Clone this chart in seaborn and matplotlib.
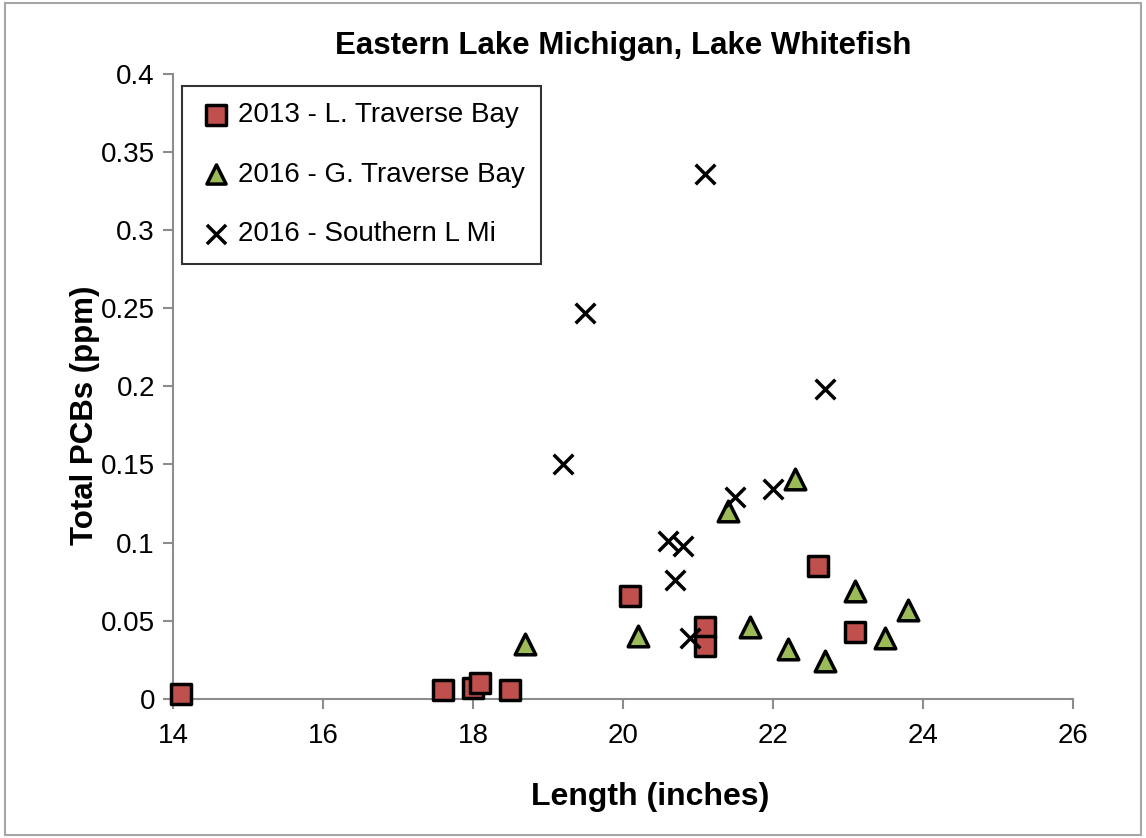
import matplotlib
matplotlib.use("Agg")
import matplotlib.pyplot as plt
import matplotlib.patches as patches
import seaborn as sns
import pandas as pd

# data: length (inches) vs total PCBs (ppm)
ltb_len = [14.1, 17.6, 18.0, 18.1, 18.5, 20.1, 21.1, 21.1, 22.6, 23.1]
ltb_pcb = [0.003, 0.006, 0.007, 0.010, 0.006, 0.066, 0.046, 0.034, 0.085, 0.043]

gtb_len = [18.7, 20.2, 21.4, 21.7, 22.2, 22.3, 22.7, 23.1, 23.5, 23.8]
gtb_pcb = [0.035, 0.040, 0.120, 0.046, 0.032, 0.141, 0.024, 0.069, 0.039, 0.057]

slm_len = [19.2, 19.5, 20.6, 20.7, 20.8, 20.9, 21.1, 21.5, 22.0, 22.7]
slm_pcb = [0.150, 0.247, 0.101, 0.076, 0.098, 0.039, 0.336, 0.129, 0.134, 0.198]

labels = ["2013 - L. Traverse Bay", "2016 - G. Traverse Bay", "2016 - Southern L Mi"]
x_ticks = [14, 16, 18, 20, 22, 24, 26]
y_ticks = [0, 0.05, 0.1, 0.15, 0.2, 0.25, 0.3, 0.35, 0.4]

sns.set_style("white")
plt.rcParams["font.family"] = ["Liberation Sans", "DejaVu Sans"]
plt.rcParams["text.color"] = "black"
plt.rcParams["axes.labelcolor"] = "black"

fig = plt.figure(figsize=(11.46, 8.38), dpi=100)
ax = fig.add_axes([0.151, 0.166, 0.785, 0.746])

# outer chart-area border
fig.patches.append(patches.Rectangle((0.004, 0.004), 0.992, 0.992, transform=fig.transFigure,
                                     fill=False, edgecolor="#A6A6A6", linewidth=1.5))

df_ltb = pd.DataFrame({"length": ltb_len, "pcb": ltb_pcb})
df_gtb = pd.DataFrame({"length": gtb_len, "pcb": gtb_pcb})
df_slm = pd.DataFrame({"length": slm_len, "pcb": slm_pcb})

sns.scatterplot(data=df_ltb, x="length", y="pcb", ax=ax, marker="s", s=190, color="#C0504D",
                edgecolor="black", linewidth=2.5, label=labels[0], zorder=3, clip_on=False)
sns.scatterplot(data=df_gtb, x="length", y="pcb", ax=ax, marker="^", s=220, color="#9BBB59",
                edgecolor="black", linewidth=2.5, label=labels[1], zorder=3, clip_on=False)
sns.scatterplot(data=df_slm, x="length", y="pcb", ax=ax, marker="x", s=200, color="black",
                linewidth=2.5, label=labels[2], zorder=3, clip_on=False)

ax.set_xlim(14, 26)
ax.set_ylim(0, 0.4)
ax.set_xticks(x_ticks)
ax.set_yticks(y_ticks)
ax.set_yticklabels([f"{v:g}" for v in y_ticks])

sns.despine(ax=ax)
for side in ["left", "bottom"]:
    ax.spines[side].set_color("#8C8C8C")
    ax.spines[side].set_linewidth(1.5)
ax.tick_params(axis="both", direction="out", length=7, width=1.5, color="#8C8C8C",
               labelcolor="black", labelsize=20, bottom=True, left=True)
ax.tick_params(axis="x", pad=10)
ax.tick_params(axis="y", pad=6)

ax.text(0.5, 1.044, "Eastern Lake Michigan, Lake Whitefish", transform=ax.transAxes,
        ha="center", va="center", fontsize=22.5, fontweight="bold")
ax.set_xlabel("Length (inches)", fontsize=23, fontweight="bold")
ax.xaxis.set_label_coords(0.53, -0.157)
ax.xaxis.label.set_verticalalignment("center")
ax.set_ylabel("Total PCBs (ppm)", fontsize=22.5, fontweight="bold")
ax.yaxis.set_label_coords(-0.098, 0.454)
ax.yaxis.label.set_verticalalignment("center")

leg = ax.legend(loc="upper left", bbox_to_anchor=(0.01, 0.981), fontsize=20, frameon=True,
                fancybox=False, edgecolor="black", labelspacing=1.2, handletextpad=0.15,
                borderpad=0.6, handlelength=1.25, borderaxespad=0)
leg.get_frame().set_linewidth(1.5)
for h in leg.legend_handles:
    h.set_sizes([190])

fig.savefig("out.png", dpi=100)
